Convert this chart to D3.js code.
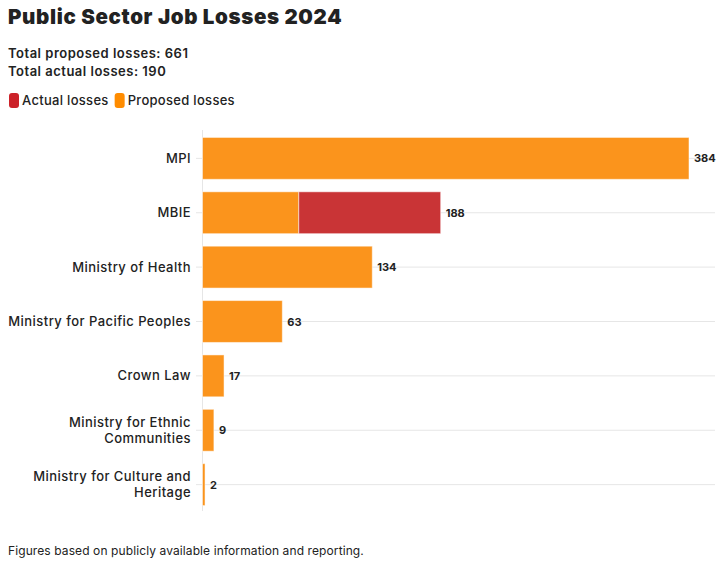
<!DOCTYPE html>
<html>
<head>
<meta charset="UTF-8">
<style>
  body { margin: 0; background: #fff; }
  svg { font-family: Inter, "Noto Sans", sans-serif; }
</style>
</head>
<body>
<svg></svg>
<script src="https://d3js.org/d3.v7.min.js"></script>
<script>
  let width = 724, height = 564;

  // data
  let agencies = ["MPI", "MBIE", "Ministry of Health", "Ministry for Pacific Peoples", "Crown Law",
    "Ministry for Ethnic Communities", "Ministry for Culture and Heritage"];
  let proposed = [384, 76, 134, 63, 17, 9, 2];
  let actual = [0, 112, 0, 0, 0, 0, 0];
  let totalProposed = 661, totalActual = 190;

  let rows = agencies.map((a, i) => ({ name: a, proposed: proposed[i], actual: actual[i] }));

  let svg = d3.select("svg")
    .attr("width", width)
    .attr("height", height);

  let margin = { left: 202.5, top: 132 };

  let x = d3.scaleLinear()
    .domain([0, 384])
    .range([margin.left, 689]);

  let y = d3.scaleBand()
    .domain(agencies)
    .range([margin.top, 511])
    .paddingInner(0.23)
    .paddingOuter(0.1);

  // title + summary
  svg.append("text").attr("x", 8).attr("y", 24)
    .attr("font-size", 20.5).attr("font-weight", 900).attr("fill", "#222")
    .attr("letter-spacing", 0.65)
    .text("Public Sector Job Losses 2024");
  svg.append("text").attr("x", 8).attr("y", 58)
    .attr("font-size", 13).attr("font-weight", 600).attr("fill", "#222")
    .attr("letter-spacing", 0.5)
    .text("Total proposed losses: " + totalProposed);
  svg.append("text").attr("x", 8).attr("y", 76)
    .attr("font-size", 13).attr("font-weight", 600).attr("fill", "#222")
    .attr("letter-spacing", 0.5)
    .text("Total actual losses: " + totalActual);

  // legend
  let legend = [["Actual losses", "#cc2229"], ["Proposed losses", "#ff8c00"]];
  let lx = 9;
  legend.forEach(l => {
    svg.append("rect").attr("x", lx).attr("y", 93).attr("width", 10).attr("height", 15)
      .attr("rx", 3).attr("fill", l[1]);
    let t = svg.append("text").attr("x", lx + 13).attr("y", 105)
      .attr("font-size", 13).attr("font-weight", 500).attr("fill", "#222")
      .attr("letter-spacing", 0.3)
      .text(l[0]);
    lx += 13 + t.node().getComputedTextLength() + 6;
  });

  // gridlines + ticks
  svg.append("g").selectAll("line")
    .data(agencies)
    .join("line")
    .attr("x1", 196).attr("x2", 715)
    .attr("y1", d => y(d) + y.bandwidth() / 2)
    .attr("y2", d => y(d) + y.bandwidth() / 2)
    .attr("stroke", "#e6e6e6");

  svg.append("line")
    .attr("x1", margin.left).attr("x2", margin.left)
    .attr("y1", 130).attr("y2", 511)
    .attr("stroke", "#e6e6e6");

  // bars
  let bars = svg.append("g");
  bars.selectAll("rect.prop")
    .data(rows)
    .join("rect")
    .attr("class", "prop")
    .attr("x", x(0))
    .attr("y", d => y(d.name))
    .attr("width", d => x(d.proposed) - x(0))
    .attr("height", y.bandwidth())
    .attr("fill", "#fb941c")
    .attr("stroke", "rgba(255,255,255,0.5)")
    .attr("stroke-width", 1);

  bars.selectAll("rect.act")
    .data(rows.filter(d => d.actual > 0))
    .join("rect")
    .attr("class", "act")
    .attr("x", d => x(d.proposed))
    .attr("y", d => y(d.name))
    .attr("width", d => x(d.proposed + d.actual) - x(d.proposed))
    .attr("height", y.bandwidth())
    .attr("fill", "#c93436")
    .attr("stroke", "rgba(255,255,255,0.5)")
    .attr("stroke-width", 1);

  // value labels
  svg.append("g").selectAll("text")
    .data(rows)
    .join("text")
    .attr("x", d => x(d.proposed + d.actual) + 5)
    .attr("y", d => y(d.name) + y.bandwidth() / 2 + 4)
    .attr("font-size", 11).attr("font-weight", 700).attr("fill", "#222")
    .text(d => d.proposed + d.actual);

  // category labels (wrapped)
  let labelWidth = 186;
  let lab = svg.append("g").selectAll("text")
    .data(agencies)
    .join("text")
    .attr("x", 191)
    .attr("text-anchor", "end")
    .attr("font-size", 13).attr("font-weight", 500).attr("fill", "#222")
    .attr("letter-spacing", 0.45);

  lab.each(function (d) {
    let el = d3.select(this);
    let words = d.split(" ");
    let lines = [], cur = [];
    words.forEach(w => {
      cur.push(w);
      el.text(cur.join(" "));
      if (el.node().getComputedTextLength() > labelWidth && cur.length > 1) {
        cur.pop();
        lines.push(cur.join(" "));
        cur = [w];
      }
    });
    lines.push(cur.join(" "));
    el.text(null);
    let cy = y(d) + y.bandwidth() / 2;
    let lh = 16;
    lines.forEach((l, i) => {
      el.append("tspan")
        .attr("x", 191)
        .attr("y", cy + 4.5 + (i - (lines.length - 1) / 2) * lh)
        .text(l);
    });
  });

  // footnote
  svg.append("text").attr("x", 8).attr("y", 555)
    .attr("font-size", 12).attr("fill", "#222")
    .attr("letter-spacing", 0.1)
    .text("Figures based on publicly available information and reporting.");
</script>
</body>
</html>
